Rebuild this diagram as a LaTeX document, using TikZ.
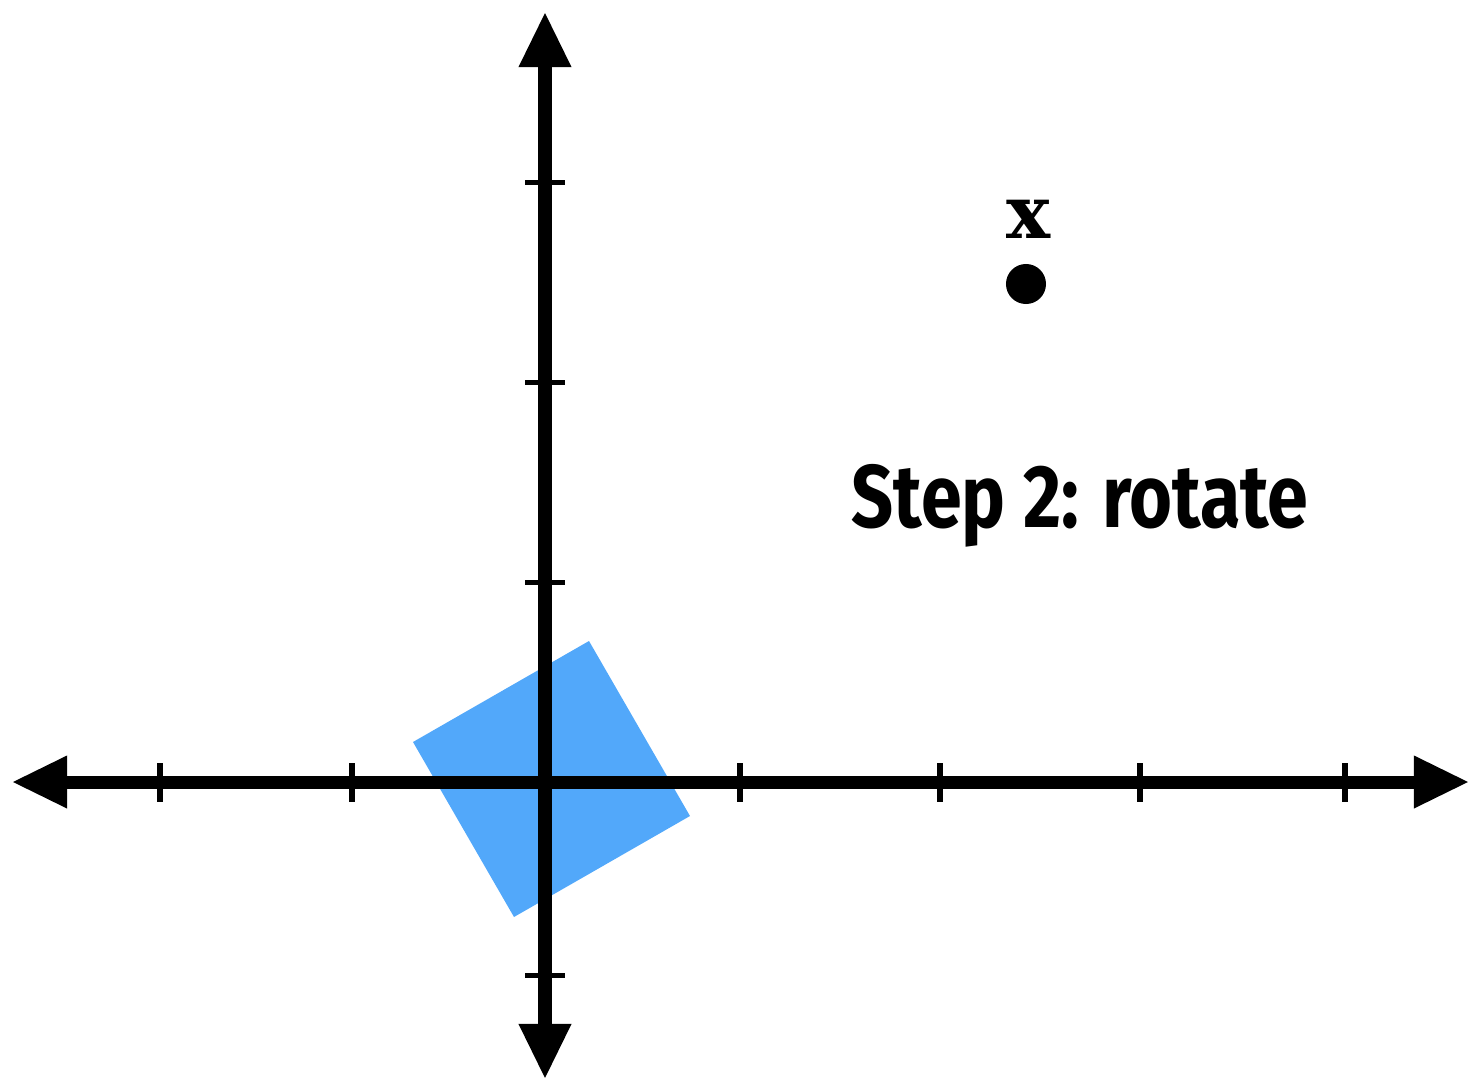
\documentclass[tikz,border=0pt]{standalone}
\usepackage{fontspec}
\usetikzlibrary{arrows.meta,positioning}
\newfontfamily\labelfont{Fira Sans}
\newfontfamily\pointfont{DejaVu Serif}
\definecolor{shapeblue}{RGB}{82,168,250}

\begin{document}
\begin{tikzpicture}[
  x=0.01cm, y=-0.01cm,
  axis/.style={line width=0.13cm, {Triangle[length=0.54cm, width=0.53cm, line width=0pt]}-{Triangle[length=0.54cm, width=0.53cm, line width=0pt]}},
  tickmark/.style={line width=0.05cm},
  dot/.style={circle, fill=black, inner sep=0pt, minimum size=0.4cm}
]
\useasboundingbox (0,0) rectangle (1468,1078);
% rotated square
\fill[shapeblue] (413,742) -- (589,641) -- (690,816) -- (514,917) -- cycle;
% axes
\coordinate (xleft) at (13,782);
\coordinate (xright) at (1468,782);
\coordinate (ytop) at (545,13);
\coordinate (ybottom) at (545,1078);
\draw[axis] (xleft) -- (xright);
\draw[axis] (ytop) -- (ybottom);
\foreach \tx in {160,352,740,940,1140,1345}
  \draw[tickmark] (\tx,763) -- (\tx,802);
\foreach \ty in {182,382,582,975}
  \draw[tickmark] (525,\ty) -- (565,\ty);
% point and labels
\node[dot] (pt) at (1026,284) {};
\node[font=\pointfont\fontsize{21}{25}\selectfont\bfseries, inner sep=0pt, above=0.25cm of pt.north, anchor=base, xshift=0.03cm] (xlabel) {x};
\node[anchor=base, inner sep=0pt] (title) at (1080,527)
  {\scalebox{0.845}[1.02]{\labelfont\fontsize{24.8}{30}\selectfont\bfseries Step 2: rotate}};
\end{tikzpicture}
\end{document}
